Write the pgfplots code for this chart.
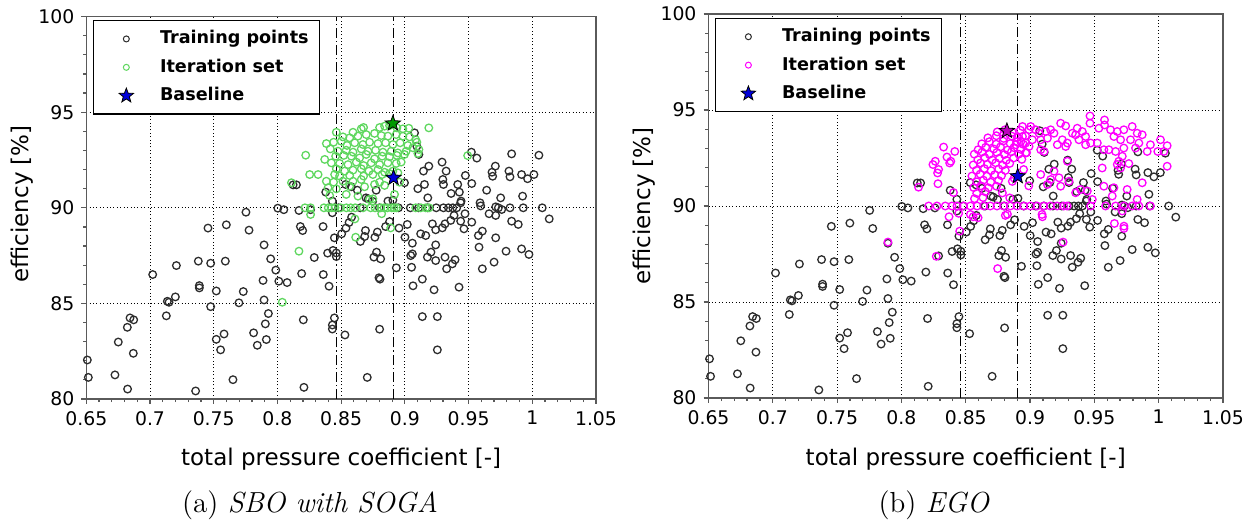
\documentclass[border=0pt]{standalone}
\usepackage{pgfplots}
\pgfplotsset{compat=1.18}
\usepackage{pgfplotstable}
\usepackage{fontspec}
\newfontfamily\djv{DejaVu Sans}
\definecolor{trcol}{RGB}{45,45,45}
\definecolor{itgreen}{RGB}{95,215,95}
\definecolor{itmag}{RGB}{255,0,255}
\definecolor{axgray}{RGB}{90,90,90}

\pgfdeclareplotmark{fstar}{%
  \pgfpathmoveto{\pgfpointpolar{90}{\pgfplotmarksize}}%
  \pgfpathlineto{\pgfpointpolar{126}{0.42\pgfplotmarksize}}%
  \pgfpathlineto{\pgfpointpolar{162}{\pgfplotmarksize}}%
  \pgfpathlineto{\pgfpointpolar{198}{0.42\pgfplotmarksize}}%
  \pgfpathlineto{\pgfpointpolar{234}{\pgfplotmarksize}}%
  \pgfpathlineto{\pgfpointpolar{270}{0.42\pgfplotmarksize}}%
  \pgfpathlineto{\pgfpointpolar{306}{\pgfplotmarksize}}%
  \pgfpathlineto{\pgfpointpolar{342}{0.42\pgfplotmarksize}}%
  \pgfpathlineto{\pgfpointpolar{18}{\pgfplotmarksize}}%
  \pgfpathlineto{\pgfpointpolar{54}{0.42\pgfplotmarksize}}%
  \pgfpathclose
  \pgfusepathqfillstroke
}

\pgfplotstableread{
x y
0.6508 82.04
0.6516 81.13
0.6725 81.26
0.6751 82.98
0.6822 83.75
0.6843 84.24
0.6872 84.14
0.6869 82.39
0.6824 80.52
0.7021 86.51
0.7128 84.35
0.7136 85.11
0.7149 85.06
0.7199 85.34
0.7207 86.98
0.7358 80.42
0.7379 87.21
0.7387 85.93
0.7387 85.81
0.7455 88.94
0.7476 87.10
0.7476 84.83
0.7520 85.65
0.7520 83.12
0.7554 82.57
0.7581 83.40
0.7599 89.11
0.7591 87.21
0.7651 81.01
0.7698 85.03
0.7732 85.62
0.7753 89.77
0.7777 88.83
0.7813 83.46
0.7842 82.81
0.7887 86.20
0.7895 88.06
0.7895 85.18
0.7905 83.93
0.7913 83.11
0.7929 84.47
0.7947 87.33
0.7987 86.74
0.8003 89.98
0.8011 86.16
0.8050 89.90
0.8076 86.09
0.8123 91.20
0.8149 91.20
0.8169 89.86
0.8180 89.02
0.8198 88.81
0.8190 86.56
0.8203 84.14
0.8208 80.61
0.8260 89.90
0.8289 87.40
0.8358 89.02
0.8360 86.51
0.8379 90.82
0.8394 87.63
0.8405 85.90
0.8431 89.74
0.8431 90.35
0.8436 87.77
0.8431 83.87
0.8431 83.66
0.8447 84.24
0.8447 88.43
0.8462 87.64
0.8462 87.45
0.8480 90.00
0.8530 83.35
0.8504 88.64
0.8535 91.22
0.8538 88.94
0.8562 89.23
0.8580 91.10
0.8582 89.51
0.8627 90.92
0.8650 90.00
0.8651 88.24
0.8685 88.50
0.8691 88.81
0.8695 90.52
0.8705 81.13
0.8713 90.47
0.8747 90.34
0.8757 87.42
0.8765 88.46
0.8775 90.92
0.8784 88.73
0.8778 87.68
0.8797 86.34
0.8805 86.27
0.8800 90.00
0.8810 87.33
0.8802 83.65
0.8849 89.02
0.8867 90.35
0.8880 89.28
0.8906 90.40
0.8933 86.86
0.8950 90.00
0.8954 88.94
0.8997 91.31
0.9001 88.46
0.9019 89.13
0.9043 90.00
0.9046 87.50
0.9053 86.89
0.9059 88.15
0.9059 87.59
0.9064 85.92
0.9076 93.92
0.9094 93.22
0.9102 91.00
0.9108 90.00
0.9110 92.79
0.9124 88.64
0.9137 86.27
0.9137 84.31
0.9146 91.92
0.9154 91.22
0.9164 88.55
0.9177 87.42
0.9178 90.00
0.9180 90.52
0.9188 92.18
0.9205 87.68
0.9216 89.16
0.9229 85.71
0.9242 87.24
0.9242 88.06
0.9242 88.85
0.9246 90.00
0.9255 84.31
0.9255 82.57
0.9292 92.39
0.9294 88.95
0.9298 91.48
0.9303 91.22
0.9303 90.00
0.9315 89.16
0.9315 87.42
0.9324 91.92
0.9328 86.81
0.9342 90.00
0.9360 89.34
0.9363 90.75
0.9373 87.07
0.9376 90.00
0.9386 89.60
0.9394 87.28
0.9407 90.00
0.9415 91.22
0.9425 85.85
0.9428 90.82
0.9438 90.26
0.9438 89.30
0.9441 90.35
0.9464 88.90
0.9472 89.69
0.9475 91.69
0.9522 92.91
0.9525 91.27
0.9525 89.25
0.9565 92.60
0.9577 88.55
0.9582 87.94
0.9590 90.26
0.9595 90.10
0.9608 88.78
0.9608 86.81
0.9642 90.92
0.9661 89.69
0.9684 91.86
0.9689 91.65
0.9700 87.16
0.9710 92.18
0.9713 88.43
0.9713 89.60
0.9713 90.05
0.9734 90.00
0.9752 90.52
0.9760 89.91
0.9794 87.73
0.9817 91.92
0.9825 91.62
0.9825 90.00
0.9838 92.82
0.9838 89.30
0.9890 89.13
0.9916 91.74
0.9916 87.85
0.9924 90.61
0.9929 90.00
0.9963 91.52
0.9974 87.56
1.0013 91.74
1.0052 92.75
1.0078 90.00
1.0133 89.42
}\training

\pgfplotstableread{
x y
0.8462 93.95
0.8593 93.95
0.8658 94.13
0.8676 94.20
0.8802 94.20
0.8841 94.27
0.8880 94.30
0.8937 94.18
0.8984 94.13
0.9031 94.16
0.9188 94.18
0.8514 93.71
0.8567 93.66
0.8632 93.75
0.8697 93.83
0.8762 93.89
0.8815 93.78
0.8867 93.75
0.8932 93.83
0.8984 93.75
0.9037 93.71
0.9084 93.57
0.8384 93.36
0.8441 93.43
0.8501 93.48
0.8546 93.26
0.8606 93.40
0.8671 93.31
0.8723 93.43
0.8789 93.36
0.8849 93.40
0.8906 93.31
0.8963 93.40
0.9023 93.26
0.9094 93.43
0.8415 93.08
0.8475 92.96
0.8540 93.01
0.8593 92.91
0.8658 93.08
0.8710 92.96
0.8770 93.01
0.8828 92.91
0.8893 92.96
0.8945 92.87
0.9010 92.96
0.9063 93.14
0.9110 93.05
0.8222 92.75
0.8371 92.53
0.8457 92.70
0.8520 92.74
0.8580 92.70
0.8645 92.61
0.8697 92.79
0.8762 92.56
0.8822 92.70
0.8880 92.67
0.8937 92.74
0.8997 92.79
0.9102 92.84
0.8423 92.35
0.8488 92.32
0.8554 92.26
0.8619 92.39
0.8676 92.21
0.8736 92.35
0.8802 92.26
0.8867 92.35
0.8932 92.32
0.8971 92.39
0.8462 92.04
0.8527 91.92
0.8593 91.97
0.8658 92.04
0.8718 91.92
0.8789 92.00
0.8841 91.86
0.8906 91.92
0.8253 91.74
0.8319 91.74
0.8449 91.74
0.8488 91.66
0.8567 91.69
0.8676 91.66
0.8749 91.74
0.8822 91.74
0.8880 91.79
0.8945 91.83
0.8384 91.39
0.8441 91.34
0.8514 91.39
0.8593 91.39
0.8658 91.48
0.8802 91.34
0.8958 91.34
0.8110 91.31
0.8397 91.05
0.8462 90.99
0.8567 91.13
0.8684 91.10
0.8762 91.22
0.8841 91.17
0.8410 90.64
0.8540 90.70
0.8632 90.61
0.8723 90.44
0.8749 90.47
0.8919 90.70
0.9493 92.73
0.8216 90.00
0.8260 90.00
0.8365 90.00
0.8399 90.00
0.8425 90.00
0.8452 90.00
0.8496 90.00
0.8541 90.00
0.8575 90.00
0.8610 90.00
0.8672 90.00
0.8732 90.00
0.8766 90.00
0.8811 90.00
0.8837 90.00
0.8863 90.00
0.8897 90.00
0.8915 90.00
0.8934 90.00
0.9085 90.00
0.9125 90.00
0.9164 90.00
0.9190 90.00
0.8038 85.06
0.8169 87.73
0.8260 89.65
0.8614 88.46
0.8608 89.42
0.8818 89.69
0.8889 88.95
}\iterA

\pgfplotstableread{
x y
0.8133 90.98
0.8245 92.16
0.8263 92.33
0.8281 91.72
0.8289 91.90
0.8328 93.07
0.8354 92.55
0.8375 92.24
0.8284 91.16
0.8405 90.70
0.8415 92.84
0.8384 92.33
0.8745 93.86
0.8805 93.97
0.8862 93.84
0.8925 93.95
0.8672 93.55
0.8738 93.66
0.8795 93.52
0.8858 93.64
0.8902 93.57
0.8965 93.66
0.8625 93.24
0.8684 93.35
0.8736 93.22
0.8790 93.38
0.8846 93.25
0.8897 93.34
0.8948 93.21
0.8596 92.93
0.8655 93.06
0.8718 92.97
0.8770 93.08
0.8826 92.92
0.8874 93.04
0.8928 92.95
0.8566 92.70
0.8627 92.81
0.8684 92.69
0.8742 92.79
0.8801 92.68
0.8855 92.82
0.8912 92.70
0.8973 92.78
0.8594 92.41
0.8648 92.52
0.8706 92.40
0.8762 92.49
0.8815 92.38
0.8872 92.50
0.8936 92.43
0.8558 92.14
0.8615 92.24
0.8668 92.16
0.8733 92.25
0.8785 92.12
0.8842 92.22
0.8584 91.86
0.8645 91.95
0.8697 91.84
0.8756 91.93
0.8808 91.85
0.8950 91.90
0.8548 91.56
0.8612 91.66
0.8664 91.55
0.8725 91.63
0.8778 91.58
0.8586 91.26
0.8637 91.35
0.8694 91.24
0.8755 91.33
0.8862 91.28
0.8562 90.96
0.8618 91.05
0.8676 90.95
0.8739 91.03
0.8585 90.66
0.8652 90.74
0.8785 90.68
0.8568 90.38
0.8634 90.44
0.8842 90.42
0.8876 91.45
0.8990 91.05
0.8941 94.14
0.9005 94.14
0.8992 93.97
0.9044 93.97
0.9070 93.79
0.9122 93.88
0.9160 93.97
0.9186 93.79
0.9018 93.45
0.9083 93.45
0.8941 93.62
0.8928 93.36
0.8966 93.28
0.8992 93.10
0.8889 93.19
0.9135 93.53
0.9109 92.84
0.9083 92.93
0.8966 92.76
0.9238 94.31
0.9277 94.17
0.9329 93.79
0.9354 93.71
0.9367 94.05
0.9406 93.88
0.9432 93.62
0.9466 94.69
0.9466 94.31
0.9535 94.05
0.9579 94.48
0.9579 94.22
0.9251 93.45
0.9290 93.28
0.9277 93.10
0.9212 93.19
0.9380 93.45
0.9432 93.19
0.9471 93.28
0.9523 93.28
0.9574 92.93
0.9613 92.93
0.9626 93.97
0.9678 93.88
0.9729 93.97
0.9794 94.14
0.9833 93.79
0.9872 93.71
0.9652 93.62
0.9704 93.45
0.9781 93.45
0.9846 93.28
0.9936 93.19
1.0014 93.45
1.0066 93.14
1.0040 92.84
0.9993 92.84
0.9911 92.84
0.9820 93.02
0.9729 93.02
0.9665 92.84
0.9717 92.59
0.9678 92.16
0.9768 92.21
0.9704 91.98
1.0066 92.07
0.9690 92.33
0.9561 91.98
0.9574 91.03
0.9652 90.95
0.9639 90.52
0.9755 90.86
0.9833 90.34
0.9872 91.21
0.9484 90.34
0.9354 90.69
0.9393 90.86
0.9445 90.78
0.9083 91.64
0.9135 91.12
0.9186 91.81
0.9225 91.47
0.9238 91.03
0.9290 92.33
0.9303 91.29
0.9160 91.38
0.8212 90.00
0.8276 90.00
0.8341 90.00
0.8393 90.00
0.8432 90.00
0.8484 90.00
0.8536 90.00
0.8588 90.00
0.8640 90.00
0.8691 90.00
0.8743 90.00
0.8795 90.00
0.8847 90.00
0.8899 90.00
0.8951 90.00
0.9003 90.00
0.9054 90.00
0.9106 90.00
0.9158 90.00
0.9210 90.00
0.9262 90.00
0.9288 90.00
0.9471 90.00
0.9587 90.00
0.9665 90.00
0.9729 90.00
0.9794 90.00
0.9846 90.00
0.9936 90.00
0.7895 88.12
0.8271 87.38
0.8370 89.44
0.8445 89.62
0.8453 88.69
0.8536 89.56
0.8557 89.44
0.8596 89.39
0.8748 86.74
0.8808 89.51
0.8824 89.57
0.9093 89.56
0.9096 89.44
0.9257 88.12
0.9656 89.09
0.9717 89.74
0.9730 88.95
0.9730 88.83
}\iterB

\pgfplotsset{
  myaxis/.style={
    scale only axis,
    clip=false,
    xmin=0.65, xmax=1.05, ymin=80, ymax=100,
    xtick={0.65,0.7,0.75,0.8,0.85,0.9,0.95,1,1.05},
    xticklabels={0.65,0.7,0.75,0.8,0.85,0.9,0.95,1,1.05},
    ytick={80,85,90,95,100},
    yticklabels={80,85,90,95,100},
    minor x tick num=4, minor y tick num=4,
    tick align=outside, tick pos=left,
    major tick length=2.5pt, minor tick length=1.6pt,
    grid=major,
    major grid style={black, line width=0.45pt, dash pattern=on 0.45pt off 1.25pt},
    axis line style={axgray, line width=0.75pt},
    tick style={axgray, line width=0.6pt},
    ticklabel style={font=\djv\fontsize{9.4}{11}\selectfont},
    label style={font=\djv\fontsize{11.5}{13}\selectfont},
    xlabel={total pressure coefficient [-]},
    ylabel={efficiency [\%]},
    xlabel style={at={(axis description cs:0.5,-0.158)}, anchor=center},
    legend cell align=left,
    legend style={draw=black, line width=0.7pt, fill=white,
      font=\djv\bfseries\fontsize{8.8}{10}\selectfont,
      inner xsep=4pt, inner ysep=4.6pt, row sep=5.2pt,
      nodes={inner sep=0pt, text height=7pt, text depth=2pt},
      /tikz/every odd column/.append style={column sep=4.5pt}},
  },
  dashdot/.style={black, line width=0.55pt, dash pattern=on 5pt off 1.5pt on 0.6pt off 1.5pt, forget plot},
  pts/.style={only marks, mark=o, mark size=1.9pt, mark options={line width=0.65pt}},
}

\begin{document}
\begin{tikzpicture}
\path[use as bounding box] (0,0) rectangle (627.5pt,262.5pt);

\begin{axis}[myaxis,
  at={(43.15pt,63pt)}, anchor=south west,
  width=254.85pt, height=191.2pt,
  ylabel style={at={(axis description cs:-0.126,0.51)}, anchor=center},
  legend style={at={(0.013,0.991)}, anchor=north west}]
\addplot[dashdot] coordinates {(0.8465,80) (0.8465,100)};
\addplot[dashdot] coordinates {(0.891,80) (0.891,100)};
\addplot[pts, trcol, legend image code/.code={\path (0pt,0pt) (24pt,0pt); \draw[trcol, line width=0.5pt] (12pt,0pt) circle (1.5pt);}] table {\training};
\addlegendentry{Training points\hspace*{1.5pt}}
\addplot[pts, itgreen, legend image code/.code={\path (0pt,0pt) (24pt,0pt); \draw[itgreen, line width=0.5pt] (12pt,0pt) circle (1.5pt);}] table {\iterA};
\addlegendentry{Iteration set}
\addplot[only marks, mark=fstar, mark size=4pt, mark options={fill=blue!85!black, draw=black, line width=0.4pt},
  legend image code/.code={\path (0pt,0pt) (24pt,0pt); \draw[mark=fstar, mark size=3.8pt, mark options={fill=blue!85!black, draw=black, line width=0.4pt}] plot coordinates {(12pt,0pt)};}]
  coordinates {(0.8911,91.57)};
\addlegendentry{Baseline}
\addplot[only marks, forget plot, mark=fstar, mark size=4pt, mark options={fill=green!60!black, draw=black, line width=0.4pt}]
  coordinates {(0.8906,94.41)};
\end{axis}

\begin{axis}[myaxis,
  at={(354.25pt,63.5pt)}, anchor=south west,
  width=257.25pt, height=192pt,
  ylabel style={at={(axis description cs:-0.1244,0.5)}, anchor=center},
  legend style={at={(0.0126,0.99)}, anchor=north west}]
\addplot[dashdot] coordinates {(0.846,80) (0.846,100)};
\addplot[dashdot] coordinates {(0.8904,80) (0.8904,100)};
\addplot[pts, trcol, legend image code/.code={\path (0pt,0pt) (24pt,0pt); \draw[trcol, line width=0.5pt] (12pt,0pt) circle (1.5pt);}] table {\training};
\addlegendentry{Training points\hspace*{1.5pt}}
\addplot[pts, itmag, legend image code/.code={\path (0pt,0pt) (24pt,0pt); \draw[itmag, line width=0.5pt] (12pt,0pt) circle (1.5pt);}] table {\iterB};
\addlegendentry{Iteration set}
\addplot[only marks, mark=fstar, mark size=4pt, mark options={fill=blue!85!black, draw=black, line width=0.4pt},
  legend image code/.code={\path (0pt,0pt) (24pt,0pt); \draw[mark=fstar, mark size=3.8pt, mark options={fill=blue!85!black, draw=black, line width=0.4pt}] plot coordinates {(12pt,0pt)};}]
  coordinates {(0.8904,91.55)};
\addlegendentry{Baseline}
\addplot[only marks, forget plot, mark=fstar, mark size=4pt, mark options={fill=itmag!75!black, draw=black, line width=0.4pt}]
  coordinates {(0.882,93.91)};
\end{axis}

\node[font=\fontsize{14.5}{17}\selectfont] at (155pt,10pt) {(a) \textit{SBO with SOGA}};
\node[font=\fontsize{14.5}{17}\selectfont] at (467pt,10pt) {(b) \textit{EGO}};
\end{tikzpicture}
\end{document}
